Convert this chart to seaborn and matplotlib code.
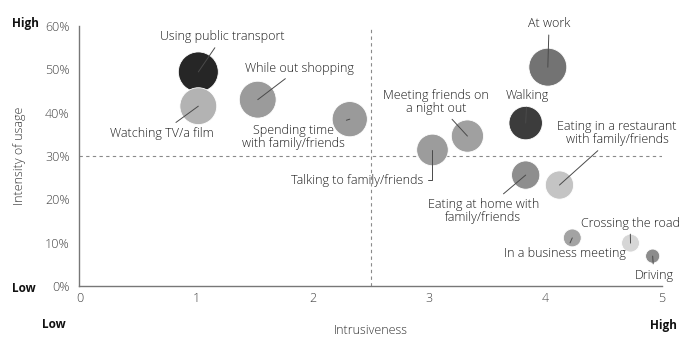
import matplotlib
matplotlib.use("Agg")
import matplotlib.pyplot as plt
from matplotlib.ticker import PercentFormatter
import seaborn as sns
import pandas as pd

# Activities, their intrusiveness (0-5), intensity of usage and bubble weight
activities = [
    "Using public transport", "Watching TV/a film", "While out shopping",
    "Spending time\nwith family/friends", "At work", "Walking",
    "Meeting friends on\na night out", "Talking to family/friends",
    "Eating at home with\nfamily/friends", "Eating in a restaurant\nwith family/friends",
    "In a business meeting", "Crossing the road", "Driving",
]
intrusiveness = [1.02, 1.02, 1.53, 2.32, 4.02, 3.83, 3.33, 3.03, 3.83, 4.12, 4.23, 4.73, 4.92]
usage = [0.494, 0.415, 0.430, 0.385, 0.505, 0.376, 0.346, 0.314, 0.256, 0.233, 0.111, 0.099, 0.069]
weight = [40, 34, 34, 31, 36, 28, 26, 25, 20, 20, 8, 8, 5]
shades = ["#262626", "#b3b3b3", "#9b9b9b", "#9a9a9a", "#737373", "#3c3c3c", "#a0a0a0",
          "#9c9c9c", "#8e8e8e", "#c4c4c4", "#a3a3a3", "#d6d6d6", "#8c8c8c"]

x_ticks = [0, 1, 2, 3, 4, 5]
y_ticks = [0, 0.1, 0.2, 0.3, 0.4, 0.5, 0.6]

df = pd.DataFrame({"activity": activities, "intrusiveness": intrusiveness,
                   "usage": usage, "weight": weight})

# Label anchor positions (data coordinates) for each activity
label_pos = {
    "Using public transport": (1.226, 0.575),
    "Watching TV/a film": (0.703, 0.353),
    "While out shopping": (1.887, 0.503),
    "Spending time\nwith family/friends": (1.835, 0.344),
    "At work": (4.031, 0.605),
    "Walking": (3.842, 0.4385),
    "Meeting friends on\na night out": (3.062, 0.4246),
    "Talking to family/friends": (2.384, 0.2446),
    "Eating at home with\nfamily/friends": (3.465, 0.1731),
    "Eating in a restaurant\nwith family/friends": (4.614, 0.352),
    "In a business meeting": (4.168, 0.0739),
    "Crossing the road": (4.726, 0.1454),
    "Driving": (4.931, 0.0254),
}

sns.set_theme(style="white")
plt.rcParams["font.family"] = ["Open Sans", "DejaVu Sans"]

fig = plt.figure(figsize=(6.9, 3.39), dpi=100)
ax = fig.add_axes([0.1152, 0.1563, 0.8442, 0.7670])

ax.axvline(2.5, color="#8a8a8a", lw=0.8, ls=(0, (3, 3)), zorder=1)
ax.axhline(0.3, color="#8a8a8a", lw=0.8, ls=(0, (3, 3)), zorder=1)

sns.scatterplot(data=df, x="intrusiveness", y="usage", hue="activity",
                palette=dict(zip(activities, shades)), size="weight",
                sizes=(0, 829), size_norm=(0, 40), edgecolor="white",
                linewidth=0.6, legend=False, ax=ax, zorder=3)

line_kw = dict(arrowstyle="-", color="#4a4a4a", lw=0.7, shrinkA=1, shrinkB=0)
for name, xv, yv in zip(activities, intrusiveness, usage):
    tx, ty = label_pos[name]
    props = dict(line_kw)
    if name.startswith("Talking"):
        props.update(connectionstyle="angle,angleA=0,angleB=90,rad=0", relpos=(1, 0.5))
    ax.annotate(name, xy=(xv, yv), xytext=(tx, ty), ha="center", va="center",
                fontsize=9, fontweight="light", color="#1e1e1e", linespacing=1.0,
                arrowprops=props, zorder=4, annotation_clip=False)

ax.set_xlim(0, 5)
ax.set_ylim(0, 0.6)
ax.set_xticks(x_ticks)
ax.set_yticks(y_ticks)
ax.yaxis.set_major_formatter(PercentFormatter(1.0, decimals=0))
ax.tick_params(axis="both", length=0, labelsize=9, labelcolor="#444444")
ax.tick_params(axis="x", pad=4)
ax.tick_params(axis="y", pad=7)
for lab in ax.get_xticklabels() + ax.get_yticklabels():
    lab.set_fontweight("light")

sns.despine(ax=ax)
for side in ("left", "bottom"):
    ax.spines[side].set_color("#777777")
    ax.spines[side].set_linewidth(1.0)

ax.set_xlabel("Intrusiveness", fontsize=9, fontweight="light", color="#333333", labelpad=14)
ax.set_ylabel("Intensity of usage", fontsize=9, fontweight="light", color="#333333", labelpad=14)

# Corner qualifiers for the axes
corner = dict(fontsize=8.5, fontweight="bold", color="#111111", va="center")
fig.text(12 / 690, 1 - 24 / 339, "High", **corner)
fig.text(12 / 690, 1 - 288 / 339, "Low", **corner)
fig.text(42 / 690, 1 - 325 / 339, "Low", **corner)
fig.text(677 / 690, 1 - 325 / 339, "High", ha="right", **corner)

fig.savefig("out.png", dpi=100)
